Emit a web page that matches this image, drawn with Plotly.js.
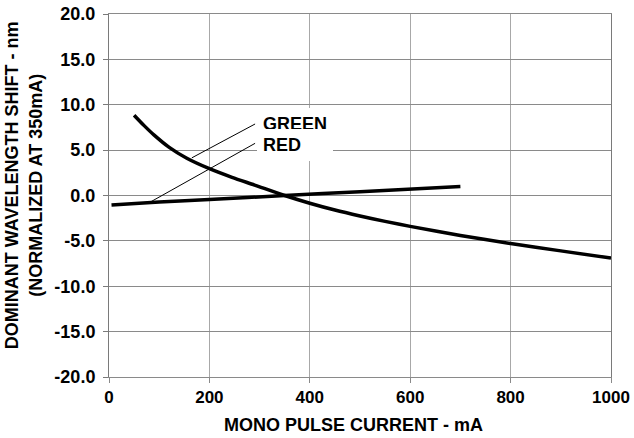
<!DOCTYPE html>
<html>
<head>
<meta charset="utf-8">
<script src="https://cdn.plot.ly/plotly-3.0.1.min.js"></script>
<style>
  html, body { margin: 0; padding: 0; background: #fff; }
  #chart { width: 634px; height: 438px; }
</style>
</head>
<body>
<div id="chart"></div>
<script>
// Dominant wavelength shift vs. mono pulse current, normalized at 350 mA
const greenCurrent = [50, 70, 90, 120, 155, 200, 245, 290, 350, 400, 450, 500, 550, 600, 700, 800, 900, 1000];
const greenShift   = [8.85, 7.7, 6.65, 5.3, 4.1, 2.95, 2.0, 1.15, 0.0, -0.85, -1.6, -2.25, -2.85, -3.4, -4.4, -5.3, -6.1, -6.9];

const redCurrent = [5, 100, 200, 350, 500, 700];
const redShift   = [-1.05, -0.72, -0.45, 0.0, 0.42, 1.0];

const xTicks = [0, 200, 400, 600, 800, 1000];
const yTicks = [-20, -15, -10, -5, 0, 5, 10, 15, 20];

// Leader lines from the labels to each curve (mA, nm)
const greenLeader = { x: [165, 291], y: [4.15, 7.88] };
const redLeader   = { x: [83, 291],  y: [-0.7, 5.75] };

const FONT = 'Liberation Sans, Arial, sans-serif';

const traces = [
  {
    x: greenCurrent, y: greenShift, name: 'GREEN',
    type: 'scatter', mode: 'lines',
    line: { color: '#000', width: 3.5, shape: 'spline', smoothing: 0.8 }
  },
  {
    x: redCurrent, y: redShift, name: 'RED',
    type: 'scatter', mode: 'lines',
    line: { color: '#000', width: 3.5, shape: 'spline', smoothing: 0.6 }
  }
];

const leaderShape = (pts) => ({
  type: 'line', xref: 'x', yref: 'y',
  x0: pts.x[0], y0: pts.y[0], x1: pts.x[1], y1: pts.y[1],
  line: { color: '#000', width: 1 }
});

// Curve labels sit on white boxes that mask the grid behind them
const curveLabel = (text, y) => ({
  xref: 'x', yref: 'y', x: 295, y: y,
  xanchor: 'left', yanchor: 'middle', align: 'left',
  width: 64, text: '<b>' + text + '</b>', showarrow: false,
  bgcolor: '#fff', borderpad: 6, borderwidth: 0,
  font: { family: FONT, size: 18, color: '#000' }
});

const layout = {
  width: 634, height: 438,
  margin: { l: 109, r: 23, t: 14, b: 61 },
  paper_bgcolor: '#fff', plot_bgcolor: '#fff',
  showlegend: false,
  font: { family: FONT, color: '#000', size: 17 },
  xaxis: {
    range: [0, 1000], tickvals: xTicks, ticktext: xTicks.map(String),
    showgrid: true, gridcolor: '#a8a8a8', gridwidth: 1,
    showline: true, linecolor: '#8a8a8a', linewidth: 1, mirror: true,
    ticks: 'outside', ticklen: 5, tickcolor: '#8a8a8a',
    zeroline: false,
    tickfont: { family: FONT, size: 17, color: '#000', weight: 'bold' }
  },
  yaxis: {
    range: [-20, 20], tickvals: yTicks, ticktext: yTicks.map(v => v.toFixed(1)),
    showgrid: true, gridcolor: '#8a8a8a', gridwidth: 1,
    showline: true, linecolor: '#7a7a7a', linewidth: 1, mirror: true,
    ticks: 'outside', ticklen: 5, tickcolor: '#7a7a7a',
    ticklabelstandoff: 4,
    zeroline: false,
    tickfont: { family: FONT, size: 18, color: '#000', weight: 'bold' }
  },
  shapes: [leaderShape(greenLeader), leaderShape(redLeader)],
  annotations: [
    curveLabel('GREEN', 7.88),
    curveLabel('RED', 5.56),
    {
      xref: 'paper', yref: 'paper', x: 0.487, y: -0.132,
      xanchor: 'center', yanchor: 'middle', showarrow: false,
      text: '<b>MONO PULSE CURRENT - mA</b>',
      font: { family: FONT, size: 18, color: '#000' }
    },
    {
      xref: 'paper', yref: 'paper', x: -0.169, y: 0.529,
      xanchor: 'center', yanchor: 'middle', showarrow: false, textangle: -90,
      text: '<b>DOMINANT WAVELENGTH SHIFT - nm<br>(NORMALIZED AT 350mA)</b>',
      font: { family: FONT, size: 18, color: '#000' }
    }
  ]
};

Plotly.newPlot('chart', traces, layout, { displayModeBar: false, staticPlot: true });
</script>
</body>
</html>
